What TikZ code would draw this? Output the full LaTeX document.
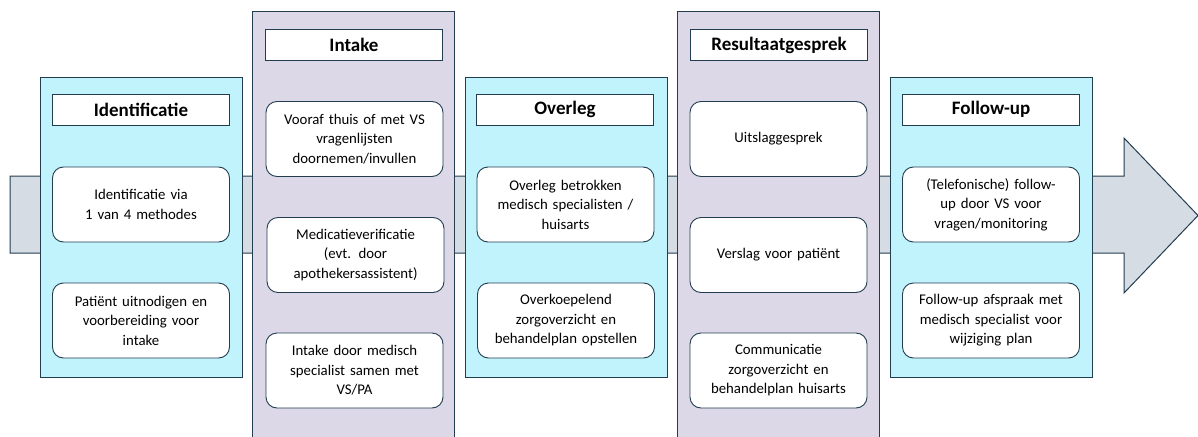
\documentclass[tikz,border=0pt]{standalone}
\usepackage{fontspec}
\setmainfont{Carlito}
\definecolor{fasecyaan}{HTML}{C1F3FC}
\definecolor{faselila}{HTML}{DCD8E7}
\definecolor{pijlgrijs}{HTML}{D6DCE4}
\definecolor{rand}{HTML}{223D50}
\tikzset{
  fase/.style={draw=rand, line width=1pt},
  kop/.style={draw=rand, line width=1pt, fill=white, minimum width=177pt, minimum height=31pt,
    inner sep=0pt, font=\fontsize{19}{22}\selectfont\bfseries},
  stap/.style={draw=rand, line width=0.9pt, fill=white, rounded corners=11pt, minimum width=177pt,
    minimum height=75pt, inner sep=0pt, text width=172pt, align=center,
    font=\fontsize{14.8}{19.5}\selectfont},
}
\begin{document}
\begin{tikzpicture}[x=1pt, y=-1pt]
            \useasboundingbox (0,0) rectangle (1198,436);

            % pijl
            \filldraw[fill=pijlgrijs, draw=rand, line width=1pt] (10,176) -- (1124,176) -- (1124,138) -- (1198,215.5)
              -- (1124,293) -- (1124,253) -- (10,253) -- cycle;

            % fasen
            \filldraw[fase, fill=fasecyaan] (40,77) rectangle (242,377);
            \filldraw[fase, fill=faselila] (252,12) rectangle (454,445);
            \filldraw[fase, fill=fasecyaan] (465,77) rectangle (667,377);
            \filldraw[fase, fill=faselila] (677,12) rectangle (879,445);
            \filldraw[fase, fill=fasecyaan] (890,77) rectangle (1092,377);

            % Identificatie
            \node[kop] (identKop) at (141,109.5) {Identificatie};
            \node[stap] (identA) at (141,204.5) {Identificatie via\\1 van 4 methodes};
            \node[stap] (identB) at (141,320.5) {Patiënt uitnodigen en\\voorbereiding voor\\intake};

            % Intake
            \node[kop] (intakeKop) at (354,45) {Intake};
            \node[stap] (intakeA) at (354.5,139) {Vooraf thuis of met VS\\vragenlijsten\\doornemen/invullen};
            \node[stap] (intakeB) at (355.5,255) {Medicatieverificatie\\(evt. door\\apothekersassistent)};
            \node[stap] (intakeC) at (354.5,370.5) {Intake door medisch\\specialist samen met\\VS/PA};

            % Overleg
            \node[kop] (overlegKop) at (565,109.5) {Overleg};
            \node[stap] (overlegA) at (565.5,204.5) {Overleg betrokken\\medisch specialisten /\\huisarts};
            \node[stap] (overlegB) at (566,320.5) {Overkoepelend\\zorgoverzicht en\\behandelplan opstellen};

            % Resultaatgesprek
            \node[kop] (resultKop) at (779,45) {Resultaatgesprek};
            \node[stap] (resultA) at (778.5,139) {Uitslaggesprek};
            \node[stap] (resultB) at (778.5,255) {Verslag voor patiënt};
            \node[stap] (resultC) at (778.5,370.5) {Communicatie\\zorgoverzicht en\\behandelplan huisarts};

            % Follow-up
            \node[kop] (followKop) at (991,109.5) {Follow-up};
            \node[stap] (followA) at (991,204.5) {(Telefonische) follow-\\up door VS voor\\vragen/monitoring};
            \node[stap] (followB) at (991,320.5) {Follow-up afspraak met\\medisch specialist voor\\wijziging plan};
        \end{tikzpicture}
\end{document}
